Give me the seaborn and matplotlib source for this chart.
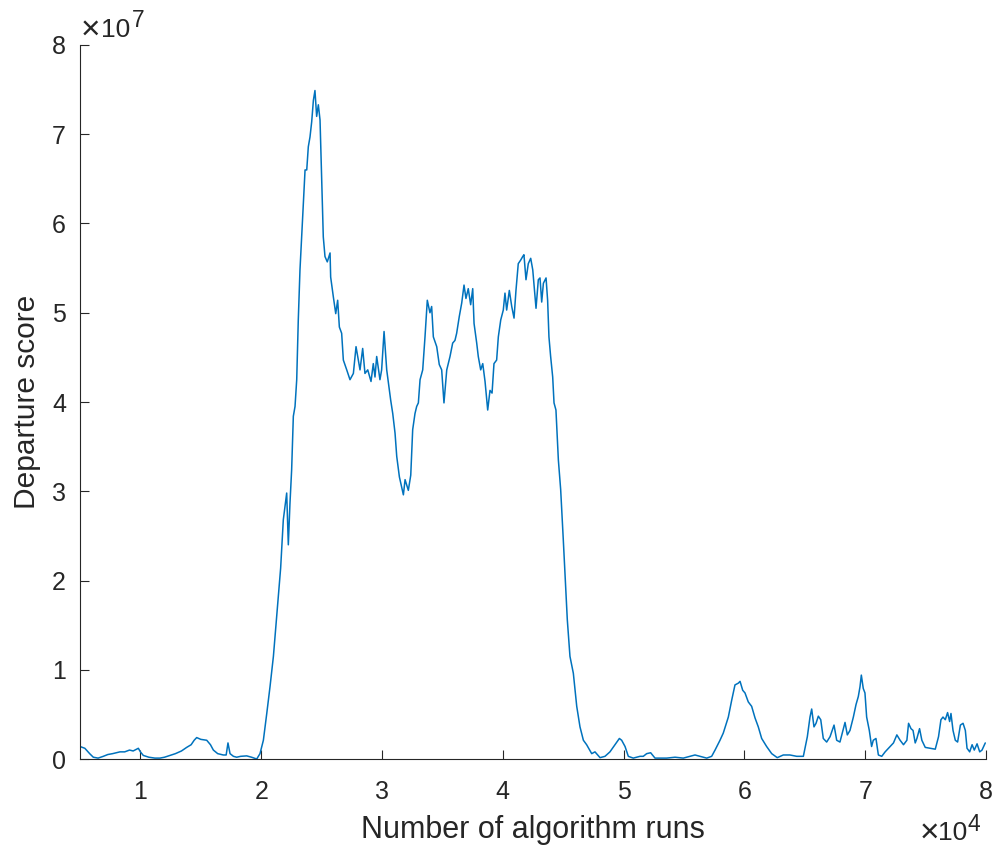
import matplotlib
matplotlib.use("Agg")
import numpy as np
import pandas as pd
import seaborn as sns
import matplotlib.pyplot as plt

# ---- data (x: algorithm runs, y: departure score in millions)
runs = [
    5000, 5400, 5800, 6100, 6500, 6930, 7300, 7700, 8000, 8310, 8700, 9100, 9400, 9830,
    10000, 10240, 10700, 11200, 11620, 12000, 12450, 12900, 13400, 13830, 14200, 14450,
    14660, 15000, 15490, 15800, 16040, 16400, 16860, 17100, 17250, 17420, 17700, 17970,
    18300, 18800, 19200, 19630, 19900, 20180, 20460, 20730, 21010, 21280, 21470, 21610,
    21830, 22110, 22245, 22380, 22520, 22660, 22800, 22940, 23070, 23210, 23350, 23490,
    23630, 23770, 23900, 24040, 24180, 24320, 24450, 24590, 24730, 24870, 25010, 25140,
    25280, 25470, 25700, 25750, 25970, 26170, 26330, 26470, 26660, 26800, 27080, 27350,
    27630, 27850, 28040, 28180, 28400, 28590, 28820, 29090, 29280, 29420, 29560, 29830,
    29970, 30170, 30390, 30610, 30720, 30890, 31080, 31220, 31440, 31770, 31910, 32180,
    32380, 32540, 32730, 32870, 33010, 33150, 33370, 33560, 33750, 33970, 34110, 34250,
    34530, 34740, 34940, 35130, 35360, 35630, 35850, 36040, 36180, 36400, 36600, 36790,
    36950, 37140, 37340, 37510, 37620, 37840, 37970, 38170, 38340, 38530, 38750, 38940,
    39110, 39270, 39490, 39630, 39830, 40040, 40180, 40320, 40540, 40740, 40930, 41090,
    41280, 41480, 41650, 41750, 41920, 42110, 42310, 42480, 42750, 42940, 43080, 43220,
    43360, 43580, 43710, 43820, 43960, 44130, 44240, 44400, 44600, 44790, 45010, 45170,
    45340, 45560, 45840, 46120, 46390, 46670, 46940, 47360, 47630, 48050, 48460, 48870,
    49290, 49650, 49840, 50120, 50390, 50800, 51360, 51630, 51910, 52240, 52600, 53570,
    54260, 54940, 55500, 55910, 56320, 56880, 57290, 57570, 57980, 58250, 58670, 58950,
    59220, 59500, 59640, 59860, 60050, 60320, 60600, 60880, 61150, 61430, 61840, 62260,
    62720, 63220, 63770, 64330, 64880, 65210, 65430, 65570, 65760, 65930, 66120, 66320,
    66530, 66810, 67090, 67420, 67640, 67910, 68140, 68330, 68520, 68740, 69020, 69240,
    69430, 69570, 69680, 69840, 69980, 70120, 70340, 70530, 70670, 70890, 71090, 71370,
    71650, 72070, 72340, 72620, 72890, 73170, 73450, 73590, 73790, 73960, 74140, 74280,
    74500, 74690, 74970, 75380, 75800, 76070, 76270, 76440, 76630, 76820, 76990, 77100,
    77270, 77460, 77650, 77880, 78100, 78290, 78430, 78650, 78850, 79030, 79260, 79480,
    79670, 79940,
]
score_millions = [
    1.4, 1.2, 0.6, 0.2, 0.1, 0.3, 0.5, 0.6, 0.7, 0.8, 0.8, 1.0, 0.9, 1.2,
    0.8, 0.4, 0.2, 0.1, 0.1, 0.2, 0.4, 0.6, 0.9, 1.3, 1.6, 2.1,
    2.4, 2.2, 2.1, 1.6, 1.0, 0.6, 0.45, 0.45, 1.8, 0.6, 0.3, 0.2,
    0.3, 0.35, 0.2, 0.0, 0.6, 2.1, 5.1, 8.1, 11.5, 15.9, 19.1, 21.4,
    26.8, 29.8, 24.0, 28.6, 32.4, 38.4, 39.5, 42.5, 49.2, 54.8, 58.5, 62.3,
    66.0, 66.0, 68.6, 69.7, 71.4, 73.8, 74.9, 72.0, 73.3, 71.6, 64.9, 58.5,
    56.3, 55.7, 56.7, 54.0, 51.8, 49.9, 51.4, 48.4, 47.7, 44.7, 43.6, 42.5,
    43.2, 46.2, 44.7, 43.6, 46.0, 43.2, 43.6, 42.3, 44.3, 42.8, 45.1, 42.5,
    43.6, 47.9, 43.6, 41.3, 40.2, 38.7, 36.5, 33.9, 31.6, 29.6, 31.3, 30.1,
    31.8, 36.9, 38.7, 39.5, 39.9, 42.5, 43.6, 47.3, 51.4, 50.0, 50.7, 47.3,
    46.2, 44.2, 43.6, 39.9, 43.6, 45.1, 46.6, 46.9, 47.7, 49.6, 51.1, 53.1,
    51.6, 52.7, 50.9, 52.7, 48.8, 46.6, 45.1, 43.6, 44.3, 42.3, 39.1, 41.3,
    41.0, 44.3, 44.7, 47.3, 49.2, 50.3, 52.2, 50.3, 52.5, 50.7, 49.4, 52.5,
    55.5, 55.9, 56.3, 56.5, 53.7, 55.5, 56.1, 54.8, 50.5, 53.7, 53.9, 51.2,
    53.3, 53.9, 51.4, 47.3, 45.1, 42.8, 39.9, 39.1, 33.5, 30.2, 24.5, 20.1,
    15.6, 11.5, 9.6, 5.9, 3.6, 2.1, 1.6, 0.6, 0.8, 0.15, 0.3, 0.8,
    1.6, 2.3, 2.1, 1.4, 0.3, 0.1, 0.3, 0.3, 0.6, 0.7, 0.1, 0.1,
    0.2, 0.1, 0.3, 0.45, 0.3, 0.1, 0.3, 1.0, 2.1, 2.9, 4.7, 6.6,
    8.3, 8.5, 8.7, 7.7, 7.4, 6.4, 5.9, 4.6, 3.6, 2.3, 1.4, 0.6,
    0.15, 0.45, 0.45, 0.3, 0.3, 2.5, 4.7, 5.6, 3.6, 4.0, 4.8, 4.4,
    2.3, 1.9, 2.5, 3.8, 2.1, 1.9, 3.1, 4.1, 2.7, 3.2, 4.7, 6.1,
    7.0, 8.1, 9.4, 7.9, 7.4, 4.7, 3.2, 1.4, 2.1, 2.3, 0.45, 0.3,
    0.8, 1.4, 1.8, 2.7, 2.1, 1.6, 2.1, 4.0, 3.4, 3.2, 1.8, 2.3,
    3.4, 2.1, 1.3, 1.2, 1.1, 2.5, 4.4, 4.7, 4.4, 5.2, 4.2, 5.1,
    3.2, 2.1, 1.9, 3.8, 4.0, 3.2, 1.2, 0.8, 1.6, 1.0, 1.7, 0.8,
    1.0, 1.8,
]

xtick_values = [10000, 20000, 30000, 40000, 50000, 60000, 70000, 80000]
xtick_labels = ["1", "2", "3", "4", "5", "6", "7", "8"]
ytick_values = [0, 1e7, 2e7, 3e7, 4e7, 5e7, 6e7, 7e7, 8e7]
ytick_labels = ["0", "1", "2", "3", "4", "5", "6", "7", "8"]

x_label = "Number of algorithm runs"
y_label = "Departure score"

sns.set_theme(style="white")
plt.rcParams["font.family"] = ["Liberation Sans", "DejaVu Sans"]

W, H = 994, 847
fig = plt.figure(figsize=(W / 100, H / 100), dpi=100)
ax = fig.add_axes([80 / W, (H - 759) / H, 906 / W, 714 / H])

df = pd.DataFrame({"runs": runs, "score": np.array(score_millions) * 1e6})
sns.lineplot(data=df, x="runs", y="score", ax=ax, color="#0072BD",
             linewidth=1.1, estimator=None, sort=False)

ax.set_xlim(5000, 80000)
ax.set_ylim(0, 8e7)
ax.set_xticks(xtick_values)
ax.set_xticklabels(xtick_labels)
ax.set_yticks(ytick_values)
ax.set_yticklabels(ytick_labels)

for s in ["top", "right"]:
    ax.spines[s].set_visible(False)
for s in ["left", "bottom"]:
    ax.spines[s].set_color("#262626")
    ax.spines[s].set_linewidth(0.8)

ax.tick_params(direction="in", length=6.5, width=0.8, colors="#262626",
               labelsize=18, bottom=True, left=True)
ax.tick_params(axis="x", pad=15)
ax.tick_params(axis="y", pad=10)

ax.set_xlabel(x_label, fontsize=22, color="#262626")
ax.set_ylabel(y_label, fontsize=21.5, color="#262626")
ax.xaxis.set_label_coords(0.5, (759 - 815) / 714)
ax.yaxis.set_label_coords((41 - 80) / 906, 0.5)

# exponent multipliers (MATLAB style)
def ftxt(px, py, s, size, va="baseline"):
    fig.text(px / W, 1 - py / H, s, fontsize=size, color="#262626",
             va=va, ha="left")

ftxt(81, 30, "\u00d7", 24, va="center")
ftxt(101, 37, "10", 19)
ftxt(132, 27, "7", 16.5)
ftxt(920, 833, "\u00d7", 24, va="center")
ftxt(938, 840, "10", 19)
ftxt(967, 831, "4", 16.5)

fig.savefig("out.png", dpi=100)
